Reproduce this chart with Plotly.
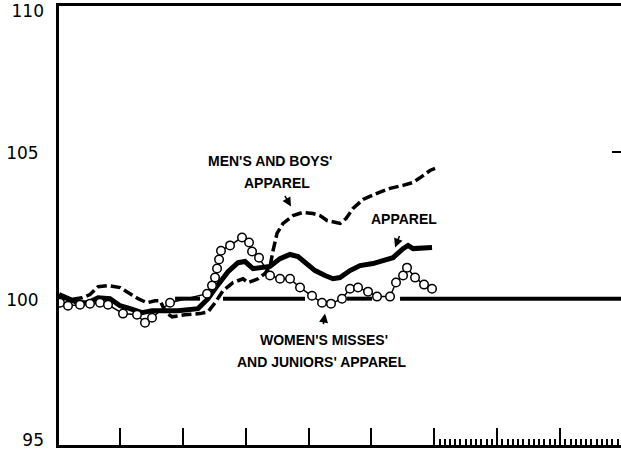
import plotly.graph_objects as go

# ---- data (x in years from start of chart, y index values) ----
men_x = [0.03, 0.205, 0.396, 0.523, 0.651, 0.810, 1.001, 1.128, 1.287, 1.430, 1.557, 1.637,
         1.732, 1.828, 2.035, 2.273, 2.401, 2.512, 2.639, 2.798, 2.957, 3.037, 3.196, 3.307,
         3.387, 3.435, 3.498, 3.594, 3.753, 3.912, 4.071, 4.182, 4.294, 4.500, 4.596, 4.707,
         4.866, 5.089, 5.296, 5.503, 5.662, 5.805, 5.932, 6.012]
men_y = [100.03, 99.97, 100.03, 100.14, 100.41, 100.45, 100.38, 100.21, 100.00, 99.86, 99.93, 99.93,
         99.52, 99.38, 99.45, 99.49, 99.55, 99.86, 100.27, 100.55, 100.68, 100.55, 100.68, 100.86,
         101.10, 101.64, 102.23, 102.57, 102.84, 102.95, 102.91, 102.84, 102.67, 102.57, 102.74, 103.08,
         103.39, 103.60, 103.77, 103.87, 103.97, 104.18, 104.38, 104.45]

app_x = [0.03, 0.173, 0.332, 0.492, 0.651, 0.842, 1.001, 1.160, 1.351, 1.510, 1.716, 1.923,
         2.241, 2.401, 2.560, 2.719, 2.878, 2.989, 3.116, 3.260, 3.387, 3.546, 3.705, 3.832,
         3.975, 4.103, 4.262, 4.389, 4.500, 4.659, 4.819, 5.025, 5.184, 5.343, 5.503, 5.582,
         5.662, 5.821, 5.964]
app_y = [100.14, 100.00, 99.86, 99.86, 100.03, 100.00, 99.76, 99.66, 99.52, 99.59, 99.59, 99.59,
         99.66, 100.00, 100.48, 100.92, 101.23, 101.27, 101.03, 101.06, 101.10, 101.37, 101.51, 101.44,
         101.20, 100.96, 100.79, 100.68, 100.72, 100.96, 101.13, 101.20, 101.30, 101.40, 101.71, 101.82,
         101.71, 101.75, 101.75]

wom_x = [0.046, 0.173, 0.364, 0.523, 0.682, 0.810, 1.048, 1.271, 1.398, 1.510, 1.796, 2.385,
         2.464, 2.512, 2.544, 2.576, 2.607, 2.751, 2.941, 3.053, 3.101, 3.212, 3.387, 3.546,
         3.705, 3.864, 4.055, 4.214, 4.357, 4.532, 4.659, 4.787, 4.946, 5.089, 5.296, 5.391,
         5.503, 5.566, 5.694, 5.837, 5.964]
wom_y = [99.86, 99.76, 99.79, 99.83, 99.86, 99.79, 99.49, 99.45, 99.18, 99.35, 99.86, 100.17,
         100.45, 100.72, 101.03, 101.34, 101.64, 101.82, 102.09, 101.92, 101.61, 101.40, 100.79, 100.68,
         100.68, 100.38, 100.10, 99.86, 99.83, 100.00, 100.34, 100.38, 100.24, 100.07, 100.07, 100.55,
         100.79, 101.06, 100.72, 100.48, 100.34]

base_x = [1.876, 2.273, None, 2.639, 3.944, None, 4.612, 5.010, None, 5.455, 9.0]
base_y = [100, 100, None, 100, 100, None, 100, 100, None, 100, 100]

y_ticks_mid = [100, 105]
y_tick_top = [110]
y_tick_bottom = [95]
x_major = [1, 2, 3, 4, 5, 6, 7, 8]
x_minor = [6 + k / 12 for k in range(1, 36) if k % 12 != 0]

labels = [
    ("MEN'S AND BOYS'", 3.39, 104.69),
    ("APPAREL", 3.498, 103.96),
    ("APPAREL", 5.519, 102.71),
    ("WOMEN'S MISSES'", 4.245, 98.60),
    ("AND JUNIORS' APPAREL", 4.198, 97.84),
]
arrows = [  # (tail_x, tail_y, head_x, head_y)
    (3.61, 103.56, 3.72, 103.15),
    (5.455, 102.19, 5.376, 101.75),
    (4.231, 99.08, 4.262, 99.49),
]

X_RANGE = [0.03, 8.97]
Y_RANGE = [95, 110]

fig = go.Figure()
fig.add_trace(go.Scatter(x=base_x, y=base_y, mode="lines",
                         line=dict(color="black", width=4), hoverinfo="skip"))
fig.add_trace(go.Scatter(x=men_x, y=men_y, mode="lines", name="Men's and boys' apparel",
                         line=dict(color="black", width=3.5, dash="10px,4px")))
fig.add_trace(go.Scatter(x=app_x, y=app_y, mode="lines", name="Apparel",
                         line=dict(color="black", width=5)))
fig.add_trace(go.Scatter(x=wom_x, y=wom_y, mode="lines+markers",
                         name="Women's misses' and juniors' apparel",
                         line=dict(color="black", width=1.5),
                         marker=dict(symbol="circle", size=8.5, color="white",
                                     line=dict(color="black", width=1.5))))
# empty traces so that the overlay axes are drawn
fig.add_trace(go.Scatter(x=[None], y=[None], xaxis="x2", yaxis="y2", mode="lines",
                         hoverinfo="skip", showlegend=False))
fig.add_trace(go.Scatter(x=[None], y=[None], xaxis="x", yaxis="y3", mode="lines",
                         hoverinfo="skip", showlegend=False))
fig.add_trace(go.Scatter(x=[None], y=[None], xaxis="x", yaxis="y4", mode="lines",
                         hoverinfo="skip", showlegend=False))

annots = []
for txt, x, y in labels:
    annots.append(dict(text="<b>" + txt + "</b>", x=x, y=y, xref="x", yref="y", showarrow=False,
                       font=dict(family="Liberation Sans", size=14, color="black"),
                       xanchor="center", yanchor="middle"))
for tx, ty, hx, hy in arrows:
    annots.append(dict(text="", x=hx, y=hy, ax=tx, ay=ty, xref="x", yref="y",
                       axref="x", ayref="y", showarrow=True, arrowhead=2,
                       arrowsize=1.2, arrowwidth=1.5, arrowcolor="black"))

tickfont = dict(family="DejaVu Sans", size=17, color="black")


def label_axis(vals, shift):
    return dict(range=Y_RANGE, overlaying="y", side="left", anchor="x",
                showgrid=False, zeroline=False, showline=False, automargin=False,
                tickmode="array", tickvals=vals, ticktext=[str(v) for v in vals],
                ticks="", ticklabelstandoff=14, ticklabelshift=shift,
                ticklabeloverflow="allow", tickfont=tickfont)


fig.update_layout(
    width=621, height=450,
    margin=dict(l=59, r=0, t=6, b=5, autoexpand=False),
    paper_bgcolor="white", plot_bgcolor="white",
    showlegend=False,
    annotations=annots,
    xaxis=dict(range=X_RANGE, showgrid=False, zeroline=False, automargin=False,
               showline=True, linecolor="black", linewidth=3, mirror=True,
               tickmode="array", tickvals=x_major, ticks="inside", ticklen=17,
               tickwidth=2, tickcolor="black", showticklabels=False),
    xaxis2=dict(range=X_RANGE, overlaying="x", anchor="y2", side="bottom",
                showgrid=False, zeroline=False, showline=False, automargin=False,
                tickmode="array", tickvals=x_minor, ticks="inside", ticklen=6,
                tickwidth=1.5, tickcolor="black", showticklabels=False),
    yaxis=dict(range=Y_RANGE, showgrid=False, zeroline=False, automargin=False,
               showline=True, linecolor="black", linewidth=3,
               tickmode="array", tickvals=y_ticks_mid, ticktext=[str(v) for v in y_ticks_mid],
               ticks="", ticklabelstandoff=14, ticklabelshift=1,
               ticklabeloverflow="allow", tickfont=tickfont),
    yaxis2=dict(range=Y_RANGE, overlaying="y", side="right", anchor="x2",
                showgrid=False, zeroline=False, showline=False, automargin=False,
                tickmode="array", tickvals=[105], ticks="inside", ticklen=9,
                tickwidth=2, tickcolor="black", showticklabels=False),
    yaxis3=label_axis(y_tick_top, 5),
    yaxis4=label_axis(y_tick_bottom, -5),
)

fig.write_html("out.html", config={"displayModeBar": False},
               post_script="document.body.style.margin='0';")
